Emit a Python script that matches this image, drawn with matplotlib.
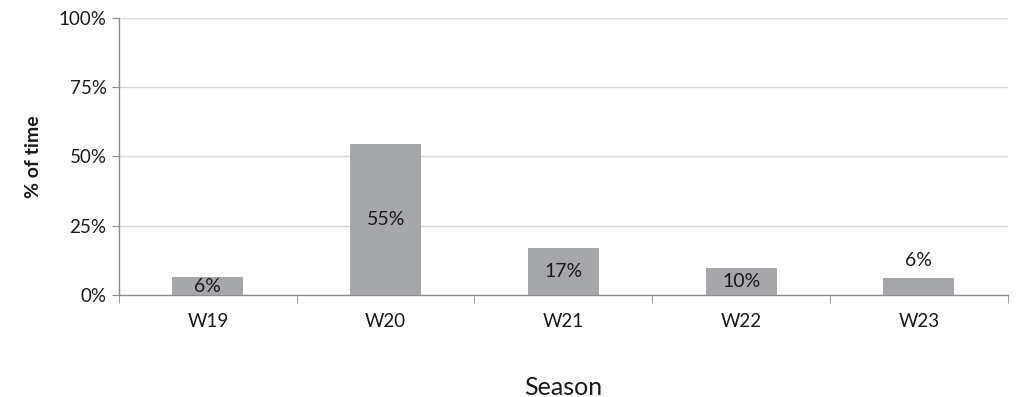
import matplotlib
matplotlib.use("Agg")
import matplotlib.pyplot as plt
from matplotlib.ticker import FuncFormatter

plt.rcParams['font.family'] = ['Lato', 'DejaVu Sans']

seasons = ["W19", "W20", "W21", "W22", "W23"]
pct_time = [6.4, 54.6, 17.0, 9.6, 6.0]
label_above = [False, False, False, False, True]
y_ticks = [0, 25, 50, 75, 100]

bar_color = "#A5A7AA"
grid_color = "#D9D9D9"
axis_color = "#8C8C8C"
text_color = "#1a1a1a"

fig = plt.figure(figsize=(10.18, 3.97), dpi=100)
ax = fig.add_axes([0.1169, 0.257, 0.873, 0.6977])

x = list(range(len(seasons)))
ax.bar(x, pct_time, width=0.4, color=bar_color, zorder=3)

ax.set_xlim(-0.5, len(seasons) - 0.5)
ax.set_ylim(0, 100)
ax.set_yticks(y_ticks)
ax.yaxis.set_major_formatter(FuncFormatter(lambda v, _: f"{v:.0f}%"))
ax.grid(axis="y", color=grid_color, linewidth=1, zorder=0)

# category labels centred, tick marks on category boundaries
ax.set_xticks(x)
ax.set_xticklabels(seasons)
ax.set_xticks([i - 0.5 for i in range(len(seasons) + 1)], minor=True)
ax.tick_params(axis="x", which="major", length=0, pad=13, labelsize=13.5, labelcolor=text_color)
ax.tick_params(axis="x", which="minor", length=6, color=axis_color, direction="out")
ax.tick_params(axis="y", which="major", length=5, color=axis_color, labelsize=13.5, pad=4,
               labelcolor=text_color)

for side in ("top", "right"):
    ax.spines[side].set_visible(False)
for side in ("left", "bottom"):
    ax.spines[side].set_color(axis_color)
    ax.spines[side].set_linewidth(1)

for xi, v, above in zip(x, pct_time, label_above):
    if above:
        ax.text(xi, v + 3.5, f"{v:.0f}%", ha="center", va="bottom", fontsize=14,
                color=text_color, zorder=4)
    else:
        ax.text(xi, v / 2, f"{v:.0f}%", ha="center", va="center", fontsize=14,
                color=text_color, zorder=4)

ax.set_ylabel("% of time", fontsize=14, fontweight="bold", labelpad=12, color=text_color)
ax.set_xlabel("Season", fontsize=18, labelpad=33, color=text_color)

fig.savefig("out.png", dpi=100)
